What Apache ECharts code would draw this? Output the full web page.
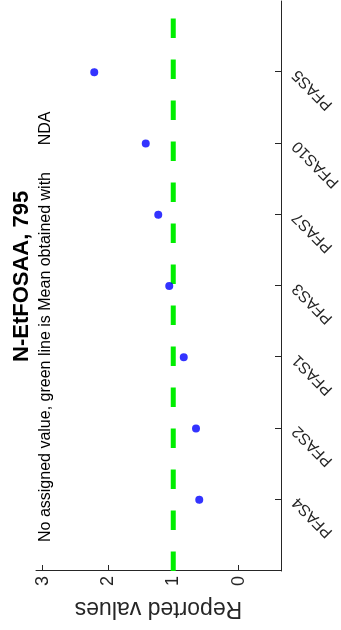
<!DOCTYPE html>
<html><head><meta charset="utf-8">
<script src="https://cdn.jsdelivr.net/npm/echarts@6/dist/echarts.min.js"></script>
<style>
html,body{margin:0;padding:0;background:#fff;overflow:hidden;width:341px;height:630px;}
#chart{position:absolute;left:0;top:0;width:630px;height:341px;transform-origin:0 0;transform:translateY(630px) rotate(-90deg);}
</style></head><body><div id="chart"></div>
<script>
const titleText = 'N-EtFOSAA, 795';
const subtitleText = 'No assigned value, green line is Mean obtained with      NDA';
const categories = ['PFAS4', 'PFAS2', 'PFAS1', 'PFAS3', 'PFAS7', 'PFAS10', 'PFAS5'];
const reportedValues = [0.60, 0.65, 0.84, 1.06, 1.23, 1.42, 2.21];
const meanValue = 1.0;
const valueTicks = [0, 1, 2, 3];
const yAxisName = 'Reported values';

const FONT = '"Liberation Sans", Arial, Helvetica, sans-serif';
const AXIS = '#262626';
const chart = echarts.init(document.getElementById('chart'), null, {renderer: 'canvas'});
const catPositions = categories.map((c, i) => i + 1);
chart.setOption({
  animation: false,
  backgroundColor: '#fff',
  title: [
    {text: titleText, left: 268, top: 11, padding: 0, textStyle: {fontFamily: FONT, fontSize: 22, fontWeight: 'bold', color: '#000'}},
    {text: subtitleText, left: 88, top: 38, padding: 0, textStyle: {fontFamily: FONT, fontSize: 16, fontWeight: 'normal', color: '#000'}}
  ],
  grid: {left: 59, right: 1, top: 36, bottom: 60, containLabel: false, outerBoundsMode: 'none'},
  xAxis: {
    type: 'value', min: 0, max: categories.length + 1, position: 'bottom',
    axisLine: {onZero: false, lineStyle: {color: AXIS, width: 1}},
    axisTick: {inside: true, length: 6, customValues: catPositions, lineStyle: {color: AXIS}},
    axisLabel: {customValues: catPositions, rotate: 45, margin: 14, fontFamily: FONT, fontSize: 16, color: AXIS,
      formatter: v => categories[Math.round(v) - 1] || ''},
    splitLine: {show: false}
  },
  yAxis: {
    type: 'value', min: -0.65, max: 3.1,
    name: yAxisName, nameLocation: 'middle', nameRotate: 90, nameGap: 15,
    nameTextStyle: {fontFamily: FONT, fontSize: 23, color: AXIS},
    axisLine: {show: true, onZero: false, lineStyle: {color: AXIS}},
    axisTick: {show: true, inside: true, length: 6, customValues: valueTicks, lineStyle: {color: AXIS}},
    axisLabel: {customValues: valueTicks, margin: 5, fontFamily: FONT, fontSize: 18, color: AXIS},
    splitLine: {show: false}
  },
  series: [
    {type: 'line', data: [[0, meanValue], [categories.length + 1, meanValue]], symbol: 'none',
      lineStyle: {color: '#00ee00', width: 5, type: [19.5, 21.5], cap: 'butt'}, z: 2},
    {type: 'scatter', data: reportedValues.map((v, i) => [catPositions[i], v]), symbol: 'circle', symbolSize: 8,
      itemStyle: {color: '#0000ff'}, z: 3}
  ]
});
</script></body></html>
